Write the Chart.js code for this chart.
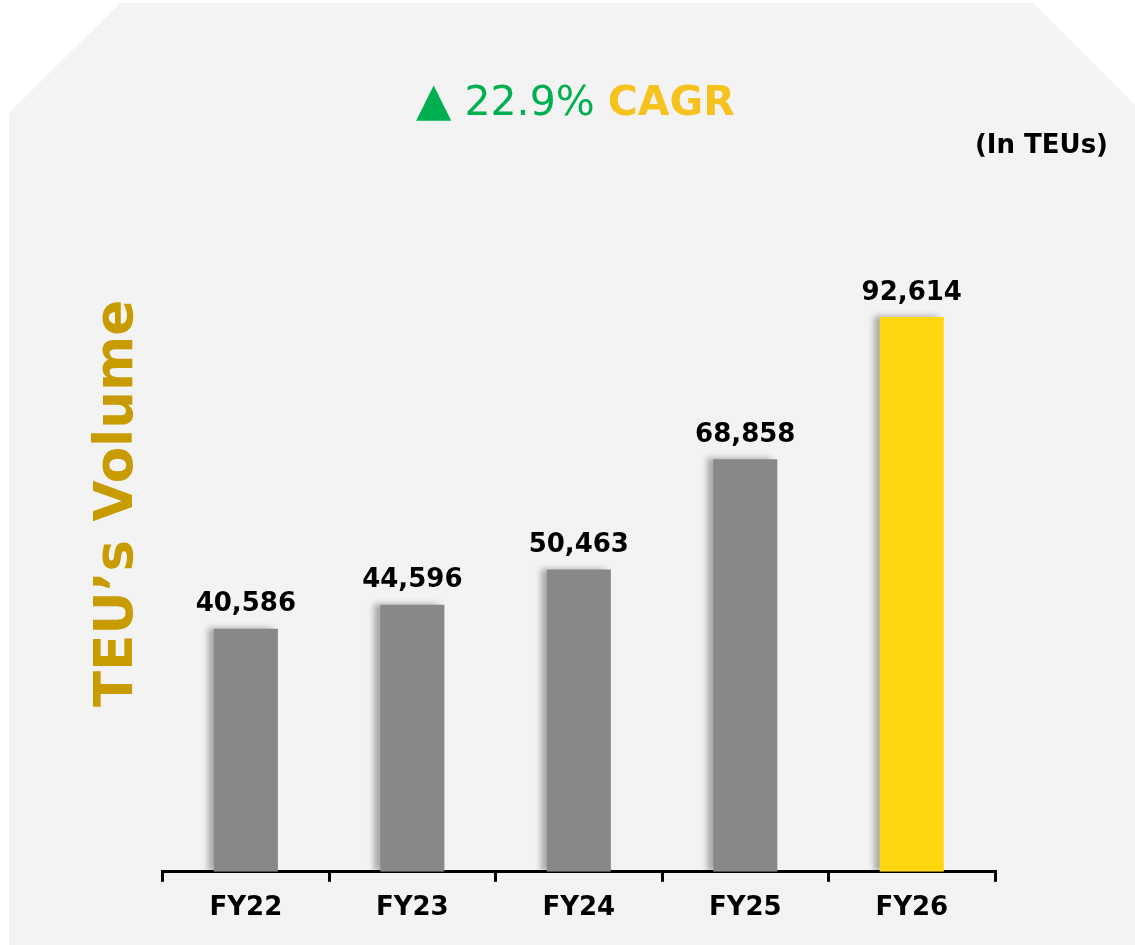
<!DOCTYPE html>
<html>
<head>
<meta charset="utf-8">
<script src="https://cdn.jsdelivr.net/npm/chart.js@4.4.1/dist/chart.umd.min.js"></script>
<style>
    html, body {
        margin: 0;
        padding: 0;
        background: #ffffff;
        width: 1135px;
        height: 945px;
        overflow: hidden;
        font-family: "DejaVu Sans", Verdana, sans-serif;
    }
    .panel {
        position: absolute;
        left: 0;
        top: 0;
        width: 1135px;
        height: 945px;
        background: #f3f3f3;
        clip-path: polygon(120px 3px, 1033px 3px, 1135px 105px, 1135px 945px, 9px 945px, 9px 113px);
    }
    .cagr {
        position: absolute;
        left: 416px;
        top: 79px;
        font-size: 41px;
        line-height: 40px;
        white-space: nowrap;
        color: #00b050;
    }
    .cagr .tri {
        font-size: 46px;
    }
    .cagr b {
        color: #f5c21e;
    }
    .unit {
        position: absolute;
        right: 27px;
        top: 131px;
        font-size: 26px;
        line-height: 26px;
        font-weight: bold;
        color: #000000;
    }
    #volumeChart {
        position: absolute;
        left: 0;
        top: 0;
    }
</style>
</head>
<body>
<div class="panel"></div>
<canvas id="volumeChart" width="1135" height="945"></canvas>
<div class="cagr"><span class="tri">▲</span> 22.9% <b>CAGR</b></div>
<div class="unit">(In TEUs)</div>

<script>
// values
const years = ['FY22', 'FY23', 'FY24', 'FY25', 'FY26'];
const teuVolume = [40586, 44596, 50463, 68858, 92614];
const barColors = ['#888888', '#888888', '#888888', '#888888', '#ffd60f'];
const axisTitle = 'TEU\u2019s Volume';

const fontFamily = '"DejaVu Sans", Verdana, sans-serif';

// soft shadow on the left side of each bar
const barShadow = {
    id: 'barShadow',
    beforeDatasetsDraw(chart) {
        const ctx = chart.ctx;
        ctx.save();
        ctx.shadowColor = 'rgba(0, 0, 0, 0.3)';
        ctx.shadowBlur = 6;
        ctx.shadowOffsetX = -6;
        ctx.shadowOffsetY = -1;
    },
    afterDatasetsDraw(chart) {
        chart.ctx.restore();
    }
};

// value labels above the bars
const valueLabels = {
    id: 'valueLabels',
    afterDraw(chart) {
        const ctx = chart.ctx;
        const meta = chart.getDatasetMeta(0);
        ctx.save();
        ctx.font = 'bold 26px ' + fontFamily;
        ctx.fillStyle = '#000000';
        ctx.textAlign = 'center';
        ctx.textBaseline = 'bottom';
        meta.data.forEach((bar, i) => {
            const value = chart.data.datasets[0].data[i];
            ctx.fillText(value.toLocaleString('en-US'), bar.x, bar.y - 11);
        });
        ctx.restore();
    }
};

function drawVolumeChart() {
    const ctx = document.getElementById('volumeChart').getContext('2d');

    new Chart(ctx, {
        type: 'bar',
        data: {
            labels: years,
            datasets: [{
                data: teuVolume,
                backgroundColor: barColors,
                borderWidth: 0,
                categoryPercentage: 1,
                barPercentage: 0.385
            }]
        },
        options: {
            responsive: false,
            animation: false,
            layout: {
                padding: {
                    left: 86,
                    right: 140,
                    top: 135,
                    bottom: 10
                }
            },
            scales: {
                x: {
                    grid: {
                        display: true,
                        offset: true,
                        drawOnChartArea: false,
                        drawTicks: true,
                        tickLength: 10,
                        color: '#000000',
                        lineWidth: 3
                    },
                    border: {
                        display: true,
                        color: '#000000',
                        width: 3
                    },
                    ticks: {
                        color: '#000000',
                        padding: 11,
                        font: {
                            family: fontFamily,
                            size: 26,
                            weight: 'bold'
                        }
                    }
                },
                y: {
                    min: 0,
                    max: 123000,
                    grid: {display: false},
                    border: {display: false},
                    ticks: {display: false},
                    title: {
                        display: true,
                        text: axisTitle,
                        color: '#c89b00',
                        padding: {top: 0, bottom: 5},
                        font: {
                            family: fontFamily,
                            size: 53,
                            weight: 'bold'
                        }
                    }
                }
            },
            plugins: {
                legend: {display: false},
                tooltip: {enabled: false}
            }
        },
        plugins: [barShadow, valueLabels]
    });
}

drawVolumeChart();
</script>
</body>
</html>
